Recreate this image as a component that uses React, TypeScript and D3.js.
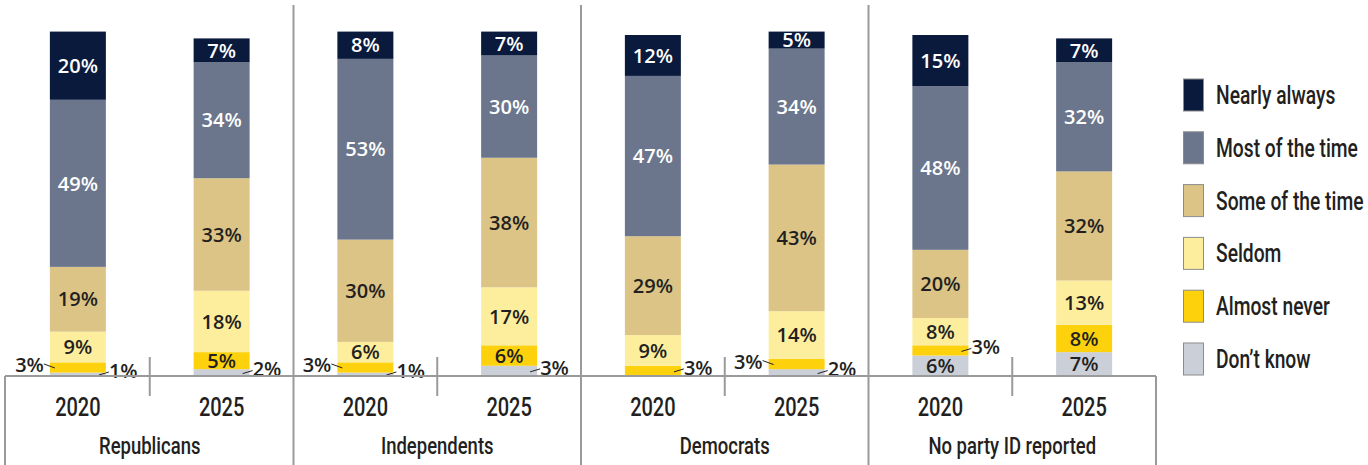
import React from "react";
import * as d3 from "d3";

const groups = ["Republicans", "Independents", "Democrats", "No party ID reported"];
const years = ["2020", "2025"];
const categories = ["Nearly always", "Most of the time", "Some of the time", "Seldom", "Almost never", "Don\u2019t know"];
const colors = ["#0a1a3d", "#6b768c", "#dbc486", "#fdee9e", "#fdd20c", "#cbcfd8"];
const labelColors = ["#ffffff", "#ffffff", "#231f20", "#231f20", "#231f20", "#231f20"];

// values per bar, order: Nearly always, Most, Some, Seldom, Almost never, Don't know
const republicans2020 = [20, 49, 19, 9, 3, 1];
const republicans2025 = [7, 34, 33, 18, 5, 2];
const independents2020 = [8, 53, 30, 6, 3, 1];
const independents2025 = [7, 30, 38, 17, 6, 3];
const democrats2020 = [12, 47, 29, 9, 3, 0];
const democrats2025 = [5, 34, 43, 14, 3, 2];
const noParty2020 = [15, 48, 20, 8, 3, 6];
const noParty2025 = [7, 32, 32, 13, 8, 7];

const bars = [
  { group: groups[0], year: years[0], values: republicans2020 },
  { group: groups[0], year: years[1], values: republicans2025 },
  { group: groups[1], year: years[0], values: independents2020 },
  { group: groups[1], year: years[1], values: independents2025 },
  { group: groups[2], year: years[0], values: democrats2020 },
  { group: groups[2], year: years[1], values: democrats2025 },
  { group: groups[3], year: years[0], values: noParty2020 },
  { group: groups[3], year: years[1], values: noParty2025 },
];

const W = 1368;
const H = 465;
const left = 6;
const right = 1156;
const baseY = 376;
const barW = 56;
const condensed = "Roboto, 'Liberation Sans', sans-serif";
const squeeze = 0.77;
const pctFont = "'Open Sans', 'DejaVu Sans', sans-serif";
const lineColor = "#9a9a9a";
const ink = "#231f20";

function Narrow(props: { x: number; y: number; size: number; anchor?: string; children: React.ReactNode }) {
  return (
    <text
      transform={`translate(${props.x},${props.y}) scale(${squeeze},1)`}
      textAnchor={props.anchor || "start"}
      fill={ink}
      fontFamily={condensed}
      fontWeight={500}
      fontSize={props.size}
    >
      {props.children}
    </text>
  );
}

export default function App() {
  const x = d3
    .scaleBand<string>()
    .domain(bars.map((b) => b.group + b.year))
    .range([left, right]);
  const gx = d3.scaleBand<string>().domain(groups).range([left, right]);
  const y = d3.scaleLinear().domain([0, 100]).range([baseY, 35]);

  const marks: React.ReactNode[] = [];
  bars.forEach((b, bi) => {
    const cx = (x(b.group + b.year) as number) + x.bandwidth() / 2;
    const x0 = cx - barW / 2;
    const x1 = cx + barW / 2;
    let acc = 0;
    const segs: { k: number; v: number; y0: number; y1: number }[] = [];
    for (let k = categories.length - 1; k >= 0; k--) {
      const v = b.values[k];
      segs.push({ k, v, y0: acc, y1: acc + v });
      acc += v;
    }
    const smallAN = b.values[4] > 0 && b.values[4] < 4;
    const smallDK = b.values[5] > 0 && b.values[5] < 4;
    segs.forEach((s) => {
      if (s.v <= 0) return;
      const top = y(s.y1);
      const bot = y(s.y0);
      marks.push(
        <rect key={`r${bi}-${s.k}`} x={x0} y={top} width={barW} height={bot - top} fill={colors[s.k]} />
      );
      const cy = (top + bot) / 2;
      const small = s.v < 4;
      const label = `${s.v}%`;
      const common = { fontFamily: pctFont, fontWeight: 600, fontSize: 20 };
      if (!small) {
        marks.push(
          <text key={`t${bi}-${s.k}`} x={cx} y={cy} dy="0.36em" textAnchor="middle" fill={labelColors[s.k]} {...common}>
            {label}
          </text>
        );
      } else {
        const onLeft = s.k === 4 && smallAN && smallDK;
        if (onLeft) {
          marks.push(
            <line key={`l${bi}-${s.k}`} x1={x0 - 6} y1={cy - 3.5} x2={x0 + 5} y2={cy + 0.5} stroke={ink} strokeWidth={1} />,
            <text key={`t${bi}-${s.k}`} x={x0 - 6} y={cy - 2.5} dy="0.36em" textAnchor="end" fill={ink} {...common}>
              {label}
            </text>
          );
        } else {
          const ly = Math.min(cy + 1, baseY - 1);
          marks.push(
            <line key={`l${bi}-${s.k}`} x1={x1 - 7} y1={ly} x2={x1 + 3} y2={ly - 3} stroke={ink} strokeWidth={1} />,
            <text key={`t${bi}-${s.k}`} x={x1 + 3} y={Math.min(cy, baseY - 2) - 3.5} dy="0.36em" textAnchor="start" fill={ink} {...common}>
              {label}
            </text>
          );
        }
      }
    });
    marks.push(
      <Narrow key={`y${bi}`} x={cx} y={416} size={26} anchor="middle">
        {b.year}
      </Narrow>
    );
  });

  const gridLines: React.ReactNode[] = [];
  groups.forEach((g, gi) => {
    const gx0 = gx(g) as number;
    const gc = gx0 + gx.bandwidth() / 2;
    gridLines.push(
      <line key={`d${gi}`} x1={gc} x2={gc} y1={357} y2={396} stroke={lineColor} strokeWidth={2} />
    );
    if (gi > 0) {
      gridLines.push(
        <line key={`s${gi}`} x1={gx0} x2={gx0} y1={5} y2={H} stroke={lineColor} strokeWidth={2} />
      );
    }
    gridLines.push(
      <Narrow key={`g${gi}`} x={gc} y={454} size={24} anchor="middle">
        {g}
      </Narrow>
    );
  });

  const legendY = d3.scalePoint<string>().domain(categories).range([95, 359]);

  return (
    <svg
      width={W}
      height={H}
      style={{ position: "absolute", left: 0, top: 0, display: "block", background: "#fff" }}
    >
      {marks}
      {gridLines}
      <line x1={left - 1} x2={right} y1={baseY} y2={baseY} stroke={lineColor} strokeWidth={2} />
      <line x1={left - 1} x2={left - 1} y1={baseY} y2={H} stroke={lineColor} strokeWidth={2} />
      <line x1={right} x2={right} y1={baseY} y2={H} stroke={lineColor} strokeWidth={2} />
      {categories.map((c, i) => {
        const cy = legendY(c) as number;
        return (
          <g key={c}>
            <rect x={1183.5} y={cy - 16} width={20} height={32} fill={colors[i]} stroke="#8c8c8c" strokeWidth={1} />
            <Narrow x={1216} y={cy + 9} size={25}>
              {c}
            </Narrow>
          </g>
        );
      })}
    </svg>
  );
}
